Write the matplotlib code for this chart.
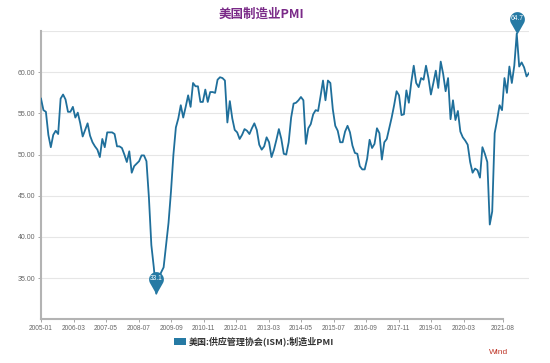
import matplotlib
matplotlib.use('Agg')
import matplotlib.pyplot as plt
import matplotlib.transforms as mtransforms
from matplotlib.patches import Rectangle
import numpy as np

# ---------------- data ----------------
title = '美国制造业PMI'
series_name = '美国:供应管理协会(ISM):制造业PMI'
start_year, start_month = 2005, 1

pmi_2005 = [56.8, 55.4, 55.2, 52.4, 50.9, 52.4, 52.9, 52.5, 56.8, 57.3, 56.7, 55.2]
pmi_2006 = [55.2, 55.8, 54.5, 55.1, 53.8, 52.2, 53.0, 53.8, 52.3, 51.5, 51.0, 50.6]
pmi_2007 = [49.7, 51.9, 50.9, 52.7, 52.7, 52.7, 52.5, 51.0, 51.0, 50.8, 50.0, 49.1]
pmi_2008 = [50.4, 47.8, 48.6, 48.9, 49.2, 49.9, 49.9, 49.2, 44.8, 39.0, 36.3, 33.1]
pmi_2009 = [34.9, 35.7, 36.3, 39.0, 41.7, 45.5, 50.0, 53.3, 54.4, 56.0, 54.5, 55.8]
pmi_2010 = [57.2, 55.8, 58.7, 58.3, 58.3, 56.4, 56.4, 57.9, 56.4, 57.6, 57.6, 57.5]
pmi_2011 = [59.1, 59.4, 59.3, 59.0, 53.9, 56.5, 54.4, 53.0, 52.7, 51.9, 52.4, 53.1]
pmi_2012 = [52.9, 52.5, 53.2, 53.8, 53.0, 51.2, 50.6, 51.0, 52.1, 51.5, 49.7, 50.6]
pmi_2013 = [51.8, 53.1, 51.9, 50.1, 50.0, 51.5, 54.5, 56.2, 56.3, 56.6, 57.0, 56.6]
pmi_2014 = [51.3, 53.2, 53.7, 54.9, 55.4, 55.3, 57.1, 59.0, 56.6, 59.0, 58.7, 55.5]
pmi_2015 = [53.5, 52.9, 51.5, 51.5, 52.8, 53.5, 52.7, 51.1, 50.2, 50.1, 48.6, 48.2]
pmi_2016 = [48.2, 49.5, 51.8, 50.8, 51.3, 53.2, 52.6, 49.4, 51.5, 51.9, 53.2, 54.5]
pmi_2017 = [56.0, 57.7, 57.2, 54.8, 54.9, 57.8, 56.3, 58.8, 60.8, 58.7, 58.2, 59.3]
pmi_2018 = [59.1, 60.8, 59.3, 57.3, 58.7, 60.2, 58.1, 61.3, 59.8, 57.7, 59.3, 54.3]
pmi_2019 = [56.6, 54.2, 55.3, 52.8, 52.1, 51.7, 51.2, 49.1, 47.8, 48.3, 48.1, 47.2]
pmi_2020 = [50.9, 50.1, 49.1, 41.5, 43.1, 52.6, 54.2, 56.0, 55.4, 59.3, 57.5, 60.7]
pmi_2021 = [58.7, 60.8, 64.7, 60.7, 61.2, 60.6, 59.5, 59.9]

x_tick_labels = ['2005-01', '2006-03', '2007-05', '2008-07', '2009-09', '2010-11',
                 '2012-01', '2013-03', '2014-05', '2015-07', '2016-09', '2017-11',
                 '2019-01', '2020-03', '2021-08']
y_ticks = [35, 40, 45, 50, 55, 60]

pmi = np.array(pmi_2005 + pmi_2006 + pmi_2007 + pmi_2008 + pmi_2009 + pmi_2010 +
               pmi_2011 + pmi_2012 + pmi_2013 + pmi_2014 + pmi_2015 + pmi_2016 +
               pmi_2017 + pmi_2018 + pmi_2019 + pmi_2020 + pmi_2021)

# ---------------- style ----------------
LINE = '#1f6f9b'
PIN = '#267aa4'
GRID = '#e6e6e6'
AXIS = '#b3b3b3'
TITLE_C = '#7a2a88'
LABEL_SCALE = 462 / 488   # the date labels of the source are spaced on a shorter axis

latin = ['Liberation Sans', 'Noto Sans CJK SC']
cjk = ['Noto Sans CJK SC', 'DejaVu Sans']

W, H = 550, 363
fig = plt.figure(figsize=(W / 100, H / 100), dpi=100)
left, right, top, bottom = 41, 529, 31.15, 319.2
ax = fig.add_axes([left / W, 1 - bottom / H, (right - left) / W, (bottom - top) / H])

x = np.arange(len(pmi))
ax.plot(x, pmi, color=LINE, lw=1.3, solid_joinstyle='round', zorder=3)
ax.set_xlim(0, len(pmi) - 1)
ax.set_ylim(30, 65)

for yv in list(y_ticks) + [65]:
    ax.axhline(yv, color=GRID, lw=0.8, zorder=1)

ax.set_yticks(y_ticks)
ax.set_yticklabels([f'{v:.2f}' for v in y_ticks], family=latin)

def month_offset(lbl):
    yy, mm = lbl.split('-')
    return (int(yy) - start_year) * 12 + int(mm) - start_month

xt = [month_offset(l) * LABEL_SCALE for l in x_tick_labels]
ax.set_xticks(xt)
ax.set_xticklabels(x_tick_labels, family=latin)

ax.tick_params(axis='y', length=2.5, width=0.6, color='#999999', pad=1.5,
               labelsize=5, labelcolor='#666666')
ax.tick_params(axis='x', length=2.5, width=0.6, color='#999999', pad=2,
               labelsize=4.7, labelcolor='#666666')

for s in ['top', 'right']:
    ax.spines[s].set_visible(False)
ax.spines['left'].set_color(AXIS)
ax.spines['left'].set_linewidth(1.5)
ax.spines['bottom'].set_color(AXIS)
ax.spines['bottom'].set_linewidth(1.5)
ax.spines['bottom'].set_bounds(0, month_offset(x_tick_labels[-1]) * LABEL_SCALE)

# ---------------- pins at min and max ----------------
R, D = 7.4, 15.0
alpha = np.degrees(np.arccos(R / D))
angs = np.radians(np.linspace(-90 + alpha, 270 - alpha, 40))
verts = [(0.0, 0.0)] + [(R * np.cos(a), D + R * np.sin(a)) for a in angs] + [(0.0, 0.0)]
rescale = np.max(np.abs(verts))
ms_pt = 2 * rescale * 72 / 100

def pin(i):
    v = pmi[i]
    ax.plot([i], [v], marker=verts, ms=ms_pt, color=PIN, mew=0, ls='none',
            clip_on=False, zorder=6)
    t = mtransforms.offset_copy(ax.transData, fig=fig, x=0, y=D, units='dots')
    ax.text(i, v, f'{v:.1f}', transform=t, ha='center', va='center', color='white',
            fontsize=4.8, family=latin, clip_on=False, zorder=7)

pin(int(np.argmin(pmi)))
pin(int(np.argmax(pmi)))

# ---------------- title, legend, source ----------------
fig.text(261 / W, 1 - 14 / H, title, ha='center', va='center', fontsize=9,
         fontweight='bold', color=TITLE_C, family=cjk)

fig.add_artist(Rectangle((174 / W, 1 - 345 / H), 12 / W, 7 / H,
                         transform=fig.transFigure, color=PIN, lw=0))
fig.text(189 / W, 1 - 341.5 / H, series_name, ha='left', va='center', fontsize=6.5,
         fontweight='bold', color='#333333', family=cjk)

fig.text(499 / W, 1 - 353 / H, 'Wind', ha='center', va='center', fontsize=6,
         color='#c0392b', family=latin)

fig.savefig('out.png', dpi=100)
